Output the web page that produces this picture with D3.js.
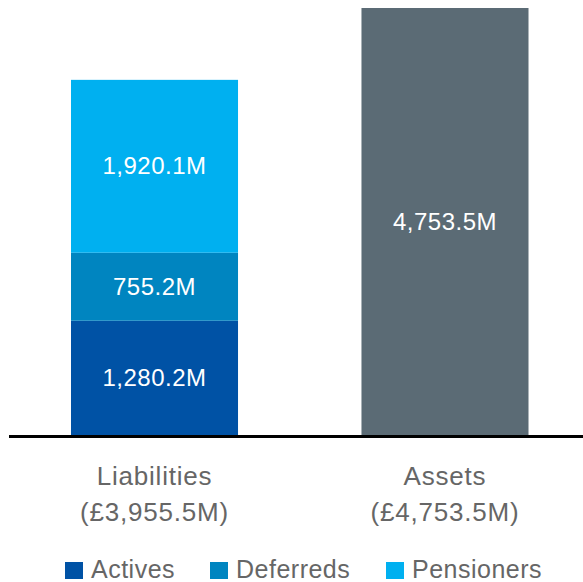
<!DOCTYPE html>
<html>
<head>
<meta charset="utf-8">
<script src="https://cdn.jsdelivr.net/npm/d3@7"></script>
<style>
  body { margin: 0; background: #fff; }
  svg text { font-family: "Liberation Sans", Arial, sans-serif; }
</style>
</head>
<body>
<svg id="chart" width="583" height="582"></svg>
<script>
// categories and values (in £M)
const categories = ["Liabilities", "Assets"];
const categoryTotals = ["(£3,955.5M)", "(£4,753.5M)"];
const seriesNames = ["Actives", "Deferreds", "Pensioners"];
const liabilityValues = [1280.2, 755.2, 1920.1];
const assetValues = [4753.5];
const seriesColors = ["#0052a5", "#0085c0", "#00b0f0"];
const assetColor = "#5b6b75";

const svg = d3.select("#chart");
const baseY = 436;

// scales
const x = d3.scaleBand().domain(categories).range([71, 528.5]).paddingInner(0.425).paddingOuter(0);
const y = d3.scaleLinear().domain([0, 4753.5]).range([baseY, 8]);

// stack the liabilities
const stackRow = {};
seriesNames.forEach((s, i) => stackRow[s] = liabilityValues[i]);
const stacked = d3.stack().keys(seriesNames)([stackRow]);

const fmt = d => d3.format(",.1f")(d) + "M";

const liab = svg.append("g");
liab.selectAll("rect").data(stacked).join("rect")
    .attr("x", x("Liabilities"))
    .attr("width", x.bandwidth())
    .attr("y", d => y(d[0][1]))
    .attr("height", d => y(d[0][0]) - y(d[0][1]))
    .attr("fill", (d, i) => seriesColors[i]);

liab.selectAll("text").data(stacked).join("text")
    .attr("x", x("Liabilities") + x.bandwidth() / 2)
    .attr("y", d => (y(d[0][0]) + y(d[0][1])) / 2 + 8)
    .attr("text-anchor", "middle")
    .attr("fill", "#fff")
    .style("font-size", "24px")
    .style("letter-spacing", "0.5px")
    .text((d, i) => fmt(liabilityValues[i]));

// assets bar
const assets = svg.append("g");
assets.selectAll("rect").data(assetValues).join("rect")
    .attr("x", x("Assets"))
    .attr("width", x.bandwidth())
    .attr("y", d => y(d))
    .attr("height", d => baseY - y(d))
    .attr("fill", assetColor);

assets.selectAll("text").data(assetValues).join("text")
    .attr("x", x("Assets") + x.bandwidth() / 2)
    .attr("y", d => y(d / 2) + 8)
    .attr("text-anchor", "middle")
    .attr("fill", "#fff")
    .style("font-size", "24px")
    .style("letter-spacing", "0.5px")
    .text(d => fmt(d));

// baseline
svg.append("line")
    .attr("x1", 9).attr("x2", 583)
    .attr("y1", baseY + 0.5).attr("y2", baseY + 0.5)
    .attr("stroke", "#000")
    .attr("stroke-width", 3);

// category labels
const labels = svg.append("g");
categories.forEach((c, i) => {
    const cx = x(c) + x.bandwidth() / 2;
    labels.append("text")
        .attr("x", cx).attr("y", 485)
        .attr("text-anchor", "middle")
        .attr("fill", "#666")
        .style("font-size", "26px")
        .style("letter-spacing", "0.8px")
        .text(c);
    labels.append("text")
        .attr("x", cx).attr("y", 521)
        .attr("text-anchor", "middle")
        .attr("fill", "#666")
        .style("font-size", "26px")
        .style("letter-spacing", "0.8px")
        .text(categoryTotals[i]);
});

// legend
const legendX = [65, 210, 386];
const legend = svg.append("g").selectAll("g").data(seriesNames).join("g")
    .attr("transform", (d, i) => `translate(${legendX[i]},562)`);
legend.append("rect")
    .attr("width", 18).attr("height", 17)
    .attr("fill", (d, i) => seriesColors[i]);
legend.append("text")
    .attr("x", 26).attr("y", 16)
    .attr("fill", "#666")
    .style("font-size", "25px")
    .style("letter-spacing", "0.5px")
    .text(d => d);
</script>
</body>
</html>
